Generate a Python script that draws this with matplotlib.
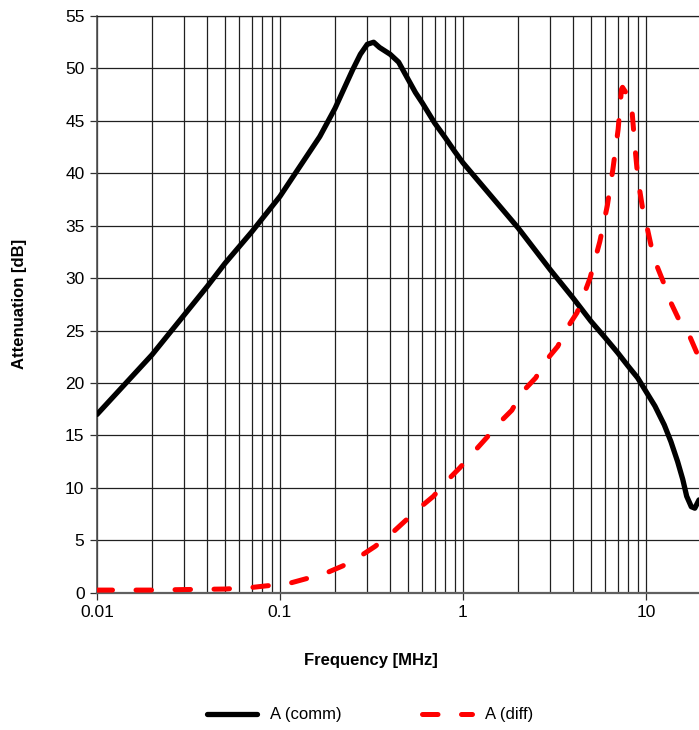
import numpy as np
import matplotlib.pyplot as plt
from matplotlib.ticker import LogLocator, NullFormatter, FixedLocator

plt.rcParams['font.family'] = ['Liberation Sans', 'DejaVu Sans']

# common mode attenuation (black solid)
comm_freq = [0.01, 0.02, 0.03, 0.04, 0.05, 0.07, 0.1, 0.165, 0.2, 0.25, 0.275, 0.3,
             0.325, 0.35, 0.4, 0.445, 0.5, 0.55, 0.6, 0.7, 0.8, 0.9, 1.0, 2.0, 3.0,
             4.0, 5.0, 6.0, 7.0, 8.0, 9.0, 10.0, 11.2, 12.6, 13.7, 14.9, 15.9, 16.7,
             17.7, 18.5, 19.5]
comm_db = [17.0, 22.7, 26.5, 29.2, 31.4, 34.4, 37.8, 43.5, 46.2, 49.9, 51.35, 52.3,
           52.5, 52.0, 51.35, 50.6, 49.0, 47.7, 46.7, 44.8, 43.4, 42.1, 41.0, 34.8, 30.8,
           28.1, 25.9, 24.3, 22.9, 21.6, 20.5, 19.2, 17.8, 16.0, 14.4, 12.5, 10.8, 9.2,
           8.2, 8.06, 8.85]

# differential mode attenuation (red dashed)
diff_freq = [0.01, 0.02, 0.03, 0.05, 0.07, 0.085, 0.11, 0.14, 0.18, 0.22, 0.27, 0.33,
             0.41, 0.48, 0.58, 0.69, 0.81, 0.96, 1.13, 1.35, 1.6, 1.85, 2.1, 2.5, 2.8,
             3.3, 3.6, 4.2, 4.55, 4.95, 5.6, 6.15, 6.6, 7.05, 7.35, 7.45, 7.9, 8.1, 8.4,
             8.7, 9.05, 9.6, 10.1, 10.7, 11.4, 12.6, 13.4, 15.0, 17.4, 19.5]
diff_db = [0.25, 0.25, 0.3, 0.35, 0.5, 0.66, 0.85, 1.35, 1.9, 2.55, 3.4, 4.4,
           5.7, 6.8, 8.1, 9.2, 10.6, 11.9, 13.3, 14.8, 16.3, 17.4, 19.1, 20.5, 22.0,
           23.5, 24.9, 26.7, 28.3, 30.0, 33.5, 36.9, 40.4, 44.2, 48.0, 48.2, 47.5, 47.2, 45.9,
           42.6, 39.4, 36.6, 35.0, 33.0, 31.3, 29.4, 28.0, 26.2, 24.4, 22.4]

y_ticks = list(range(0, 56, 5))
x_ticks = [0.01, 0.1, 1, 10]
x_labels = ['0.01', '0.1', '1', '10']

fig = plt.figure(figsize=(6.99, 7.30), dpi=100)
ax = fig.add_axes([97 / 699, 1 - 592.7 / 730, (699 - 97) / 699, (592.7 - 16) / 730])

ax.plot(comm_freq, comm_db, color='black', lw=3.8, solid_capstyle='round',
        solid_joinstyle='round', label='A (comm)', zorder=3)
ax.plot(diff_freq, diff_db, color='#ff0000', lw=3.6, linestyle=(0, (3.1, 4.7)),
        dash_capstyle='round', label='A (diff)', zorder=3)

ax.set_xscale('log')
ax.set_xlim(0.01, 19.5)
ax.set_ylim(0, 55)

ax.xaxis.set_major_locator(FixedLocator(x_ticks))
ax.set_xticklabels(x_labels)
ax.xaxis.set_minor_locator(LogLocator(base=10, subs=np.arange(2, 10)))
ax.xaxis.set_minor_formatter(NullFormatter())
ax.set_yticks(y_ticks)

ax.grid(True, which='major', axis='both', color='#202020', lw=0.9)
ax.grid(True, which='minor', axis='x', color='#202020', lw=0.9)
ax.tick_params(axis='both', which='major', length=5, width=0.9, color='#303030',
               labelsize=12.5, pad=4)
ax.tick_params(axis='x', which='minor', length=0)

ax.spines['right'].set_visible(False)
ax.spines['top'].set_color('#202020')
ax.spines['top'].set_linewidth(0.9)
ax.spines['left'].set_color('#505050')
ax.spines['left'].set_linewidth(1.2)
ax.spines['bottom'].set_color('#606060')
ax.spines['bottom'].set_linewidth(1.6)

fig.text(20 / 699, 1 - 304 / 730, 'Attenuation [dB]', rotation=90, fontsize=12,
         fontweight='bold', ha='center', va='center')
fig.text(371 / 699, 1 - 660 / 730, 'Frequency [MHz]', fontsize=12,
         fontweight='bold', ha='center', va='center')

fig.legend(loc='center', bbox_to_anchor=(370 / 699, 1 - 715 / 730), ncol=2,
           frameon=False, fontsize=12, handlelength=3.0, handletextpad=0.8,
           columnspacing=4.8)

fig.savefig('out.png', dpi=100)
